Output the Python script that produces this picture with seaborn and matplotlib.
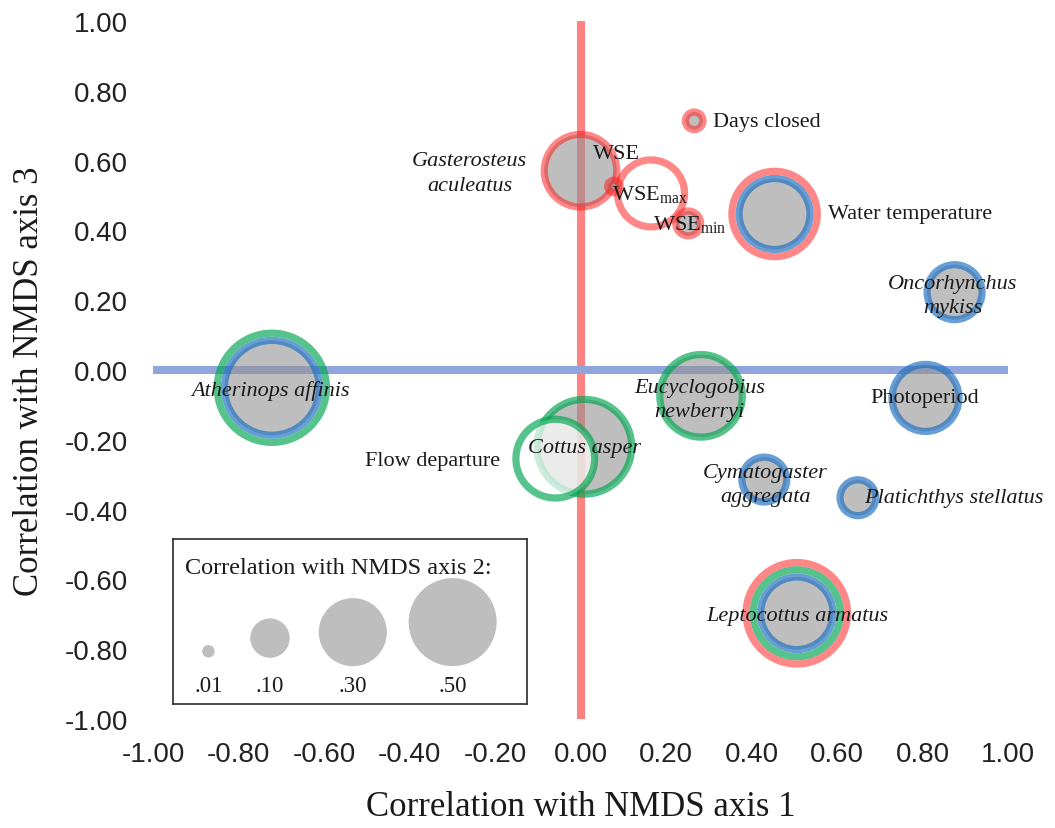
import numpy as np
import pandas as pd
import matplotlib
matplotlib.use("Agg")
import matplotlib.pyplot as plt
import seaborn as sns

# ---- data: correlations of each variable / species with the NMDS axes ----
keys = ["gasterosteus", "wse_max", "wse", "wse_min", "days_closed",
        "water_temp", "oncorhynchus", "photoperiod", "atherinops", "cottus",
        "flow_departure", "eucyclogobius", "cymatogaster", "platichthys",
        "leptocottus"]
labels = ["Gasterosteus\naculeatus", r"WSE$_{\mathrm{max}}$", "WSE",
          r"WSE$_{\mathrm{min}}$", "Days closed", "Water temperature",
          "Oncorhynchus\nmykiss", "Photoperiod", "Atherinops affinis",
          "Cottus asper", "Flow departure", "Eucyclogobius\nnewberryi",
          "Cymatogaster\naggregata", "Platichthys stellatus",
          "Leptocottus armatus"]
is_species = [True, False, False, False, False, False, True, False, True,
              True, False, True, True, True, True]
axis1 = [0.00, 0.165, 0.078, 0.252, 0.266, 0.454, 0.875, 0.807, -0.722,
         0.009, -0.059, 0.282, 0.430, 0.649, 0.506]
axis2 = [0.34, -0.29, 0.01, 0.04, 0.02, 0.325, 0.195, 0.29, 0.58, 0.58,
         -0.40, 0.44, 0.13, 0.083, 0.34]
axis3 = [0.571, 0.506, 0.526, 0.420, 0.714, 0.447, 0.223, -0.080, -0.051,
         -0.220, -0.254, -0.074, -0.314, -0.366, -0.697]

# group membership shown as coloured rings (inner -> outer: blue, green, red)
blue_group = {"water_temp", "oncorhynchus", "photoperiod", "atherinops",
              "cymatogaster", "platichthys", "leptocottus"}
green_group = {"atherinops", "cottus", "flow_departure", "eucyclogobius",
               "leptocottus"}
red_group = {"gasterosteus", "wse_max", "wse", "wse_min", "days_closed",
             "water_temp", "leptocottus"}

legend_values = [0.01, 0.10, 0.30, 0.50]
legend_labels = [".01", ".10", ".30", ".50"]
tick_values = [-1.0, -0.8, -0.6, -0.4, -0.2, 0.0, 0.2, 0.4, 0.6, 0.8, 1.0]

df = pd.DataFrame({"key": keys, "label": labels, "species": is_species,
                   "axis1": axis1, "axis2": axis2, "axis3": axis3})

# ---- styling ----
sns.set_theme(style="white")
plt.rcParams["font.family"] = ["Liberation Serif", "DejaVu Serif"]
plt.rcParams["mathtext.fontset"] = "custom"
plt.rcParams["mathtext.rm"] = "Liberation Serif"
plt.rcParams["mathtext.it"] = "Liberation Serif:italic"

AREA_PER_UNIT = 8030.0          # marker area (pt^2) per unit |r| on axis 2
RING_W = 5.2                    # ring width in points
GREY = "#939393"
RING_COLORS = {"blue": "#1F70C2", "green": "#00A550", "red": "#FF1A1A"}
RING_ALPHA = {"blue": 0.68, "green": 0.66, "red": 0.52}
GROUPS = [("blue", blue_group), ("green", green_group), ("red", red_group)]

# label anchor offsets relative to each bubble (dx, dy, ha)
label_offsets = {
    "gasterosteus": (-0.259, -0.006, "center"),
    "wse_max": (-0.002, 0.000, "center"),
    "wse": (0.007, 0.094, "center"),
    "wse_min": (0.004, 0.000, "center"),
    "days_closed": (0.045, -0.003, "left"),
    "water_temp": (0.125, 0.002, "left"),
    "oncorhynchus": (-0.004, -0.010, "center"),
    "photoperiod": (-0.002, 0.000, "center"),
    "atherinops": (-0.003, -0.006, "center"),
    "cottus": (0.000, -0.003, "center"),
    "flow_departure": (-0.129, -0.006, "right"),
    "eucyclogobius": (-0.004, -0.010, "center"),
    "cymatogaster": (0.003, -0.014, "center"),
    "platichthys": (0.015, 0.000, "left"),
    "leptocottus": (0.002, -0.006, "center"),
}

fig = plt.figure(figsize=(10.55, 8.29), dpi=100)
ax = fig.add_axes([153 / 1055, 109 / 829, 855 / 1055, 698 / 829])
ax.set_xlim(-1, 1)
ax.set_ylim(-1, 1)

# reference lines at zero
ax.axvline(0, color="#FF8282", lw=5.8, zorder=1)
ax.axhline(0, color="#90A5DC", lw=5.8, zorder=1)

# bubbles: grey fill for positive axis-2 correlation, white for negative
for i in range(len(df)):
    one = df.iloc[[i]]
    r2 = float(one["axis2"].iloc[0])
    d = np.sqrt(AREA_PER_UNIT * abs(r2))
    if r2 >= 0:
        sns.scatterplot(data=one, x="axis1", y="axis3", s=d ** 2, color=GREY,
                        alpha=0.6, edgecolor="none", linewidth=0, ax=ax,
                        legend=False, zorder=3)
    else:
        sns.scatterplot(data=one, x="axis1", y="axis3", s=d ** 2,
                        color="white", alpha=0.7, edgecolor="none",
                        linewidth=0, ax=ax, legend=False, zorder=3)
    k = 0
    for cname, members in GROUPS:
        if one["key"].iloc[0] in members:
            dk = d + 2 * k * RING_W
            sns.scatterplot(data=one, x="axis1", y="axis3", s=dk ** 2,
                            color=RING_COLORS[cname], facecolor="none",
                            edgecolor=RING_COLORS[cname], linewidth=RING_W,
                            alpha=RING_ALPHA[cname], ax=ax, legend=False,
                            zorder=3)
            k += 1

# bubble labels
for _, row in df.iterrows():
    dx, dy, ha = label_offsets[row["key"]]
    ax.text(row["axis1"] + dx, row["axis3"] + dy, row["label"], ha=ha,
            va="center", fontsize=16, color="#1a1a1a",
            style="italic" if row["species"] else "normal",
            multialignment="center", linespacing=1.4, zorder=6)

# axes decoration
sns.despine(ax=ax, left=True, bottom=True)
ax.set_xticks(tick_values)
ax.set_yticks(tick_values)
ax.set_xticklabels([f"{v + 0.0:.2f}" for v in tick_values],
                   family="Liberation Sans", fontsize=20, color="#222222")
ax.set_yticklabels([f"{v + 0.0:.2f}" for v in tick_values],
                   family="Liberation Sans", fontsize=20, color="#222222")
ax.tick_params(axis="x", length=0, pad=16)
ax.tick_params(axis="y", length=0, pad=18)
ax.grid(False)

ax.set_xlabel("Correlation with NMDS axis 1", fontsize=25, color="#1a1a1a")
ax.xaxis.set_label_coords(0.5, -0.126)
ax.xaxis.label.set_va("center")
ax.set_ylabel("Correlation with NMDS axis 3", fontsize=25, color="#1a1a1a")
ax.yaxis.set_label_coords(-0.145, 0.485)
ax.yaxis.label.set_va("center")
ax.yaxis.label.set_ha("center")

# size key
leg = ax.inset_axes([0.0234, 0.0215, 0.414, 0.236])
leg.set_xlim(0, 1)
leg.set_ylim(0, 1)
leg.set_facecolor("white")
slot_x = [0.100, 0.274, 0.508, 0.790]
slot_y = [0.320, 0.400, 0.436, 0.497]
key_df = pd.DataFrame({"x": slot_x, "y": slot_y, "value": legend_values})
sns.scatterplot(data=key_df, x="x", y="y",
                s=AREA_PER_UNIT * np.array(legend_values), color="#BEBEBE",
                edgecolor="none", linewidth=0, ax=leg, legend=False)
for xs, lab in zip(slot_x, legend_labels):
    leg.text(xs, 0.11, lab, ha="center", va="center", fontsize=16.5,
             color="#1a1a1a")
leg.text(0.034, 0.83, "Correlation with NMDS axis 2:", ha="left",
         va="center", fontsize=17.5, color="#1a1a1a")
leg.set_xticks([])
leg.set_yticks([])
leg.set_xlabel("")
leg.set_ylabel("")
for sp in leg.spines.values():
    sp.set_visible(True)
    sp.set_color("#3a3a3a")
    sp.set_linewidth(1.3)

fig.savefig("out.png", dpi=100)
